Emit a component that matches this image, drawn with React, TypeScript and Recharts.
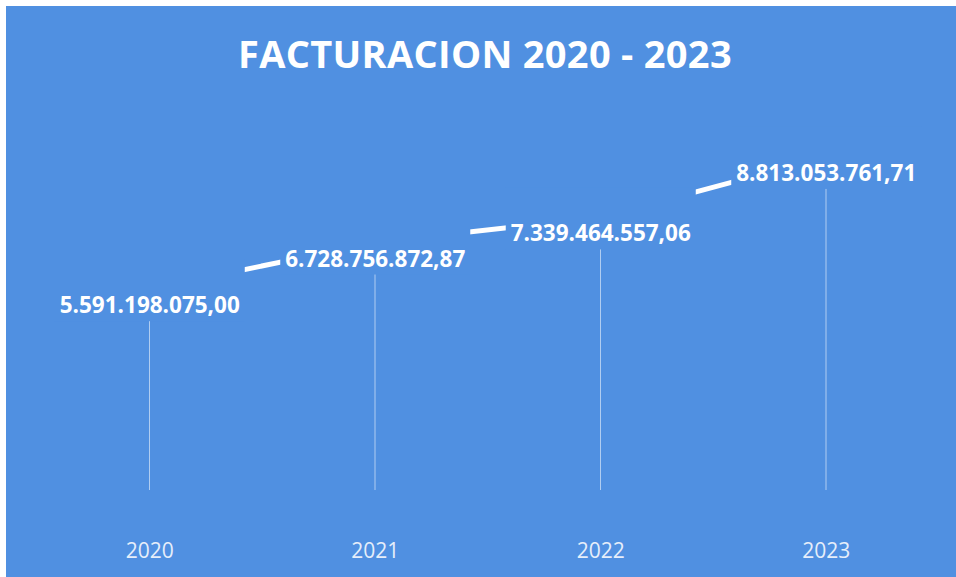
import { ComposedChart, Bar, Line, XAxis, YAxis, LabelList } from "recharts";

const BG = "#5090e1";

const YEARS = ["2020", "2021", "2022", "2023"];
const FACTURACION = [5591198075.0, 6728756872.87, 7339464557.06, 8813053761.71];
const Y_DOMAIN = [700000000, 10200000000];

const fmt = (v: number) => {
  const [ent, dec] = v.toFixed(2).split(".");
  return ent.replace(/\B(?=(\d{3})+(?!\d))/g, ".") + "," + dec;
};

const data = YEARS.map((year, i) => ({ year, value: FACTURACION[i] }));

// label sits a bit under the point, its box (same blue as the background) hides the line
const ValueLabel = (props: any) => {
  const { x, y, value } = props;
  return (
    <g>
      <rect x={x - 95} y={y - 30} width={190} height={62} fill={BG} />
      <text
        x={x}
        y={y + 24}
        textAnchor="middle"
        fill="#ffffff"
        fontSize={22.5}
        fontWeight={700}
        fontFamily="'Open Sans', sans-serif"
      >
        {fmt(value)}
      </text>
    </g>
  );
};

export default function App() {
  return (
    <div
      style={{
        position: "fixed",
        left: 6,
        top: 6,
        right: 0,
        bottom: 0,
        background: BG,
        overflow: "hidden",
        fontFamily: "'Open Sans', sans-serif",
      }}
    >
      <div
        style={{
          position: "absolute",
          left: 0,
          right: 0,
          top: 25,
          paddingLeft: 8,
          textAlign: "center",
          color: "#ffffff",
          fontSize: 38,
          fontWeight: 700,
          lineHeight: "44px",
          letterSpacing: 0.3,
        }}
      >
        FACTURACION 2020 - 2023
      </div>
      <ComposedChart
        width={950}
        height={571}
        data={data}
        margin={{ top: 94, right: 17, bottom: 0, left: 31 }}
      >
        <XAxis
          dataKey="year"
          axisLine={false}
          tickLine={false}
          height={87}
          tickMargin={47}
          tick={{ fill: "#e6eefa", fontSize: 21, fontFamily: "'Open Sans', sans-serif" }}
        />
        <YAxis hide domain={Y_DOMAIN} allowDataOverflow />
        <Bar
          dataKey="value"
          barSize={1}
          fill="rgba(255,255,255,0.55)"
          isAnimationActive={false}
        />
        <Line
          dataKey="value"
          stroke="#ffffff"
          strokeWidth={5}
          dot={false}
          isAnimationActive={false}
        >
          <LabelList dataKey="value" content={ValueLabel} />
        </Line>
      </ComposedChart>
    </div>
  );
}
